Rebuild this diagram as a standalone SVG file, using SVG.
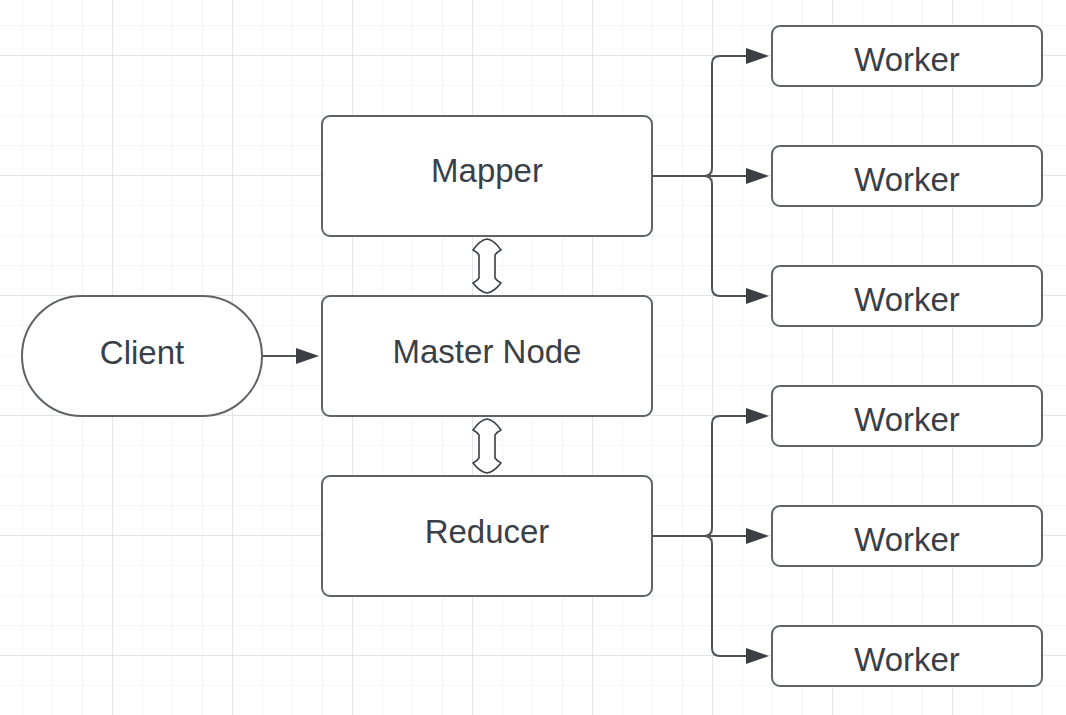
<svg xmlns="http://www.w3.org/2000/svg" width="1066" height="715" viewBox="0 0 1066 715">
<defs>
<pattern id="minor" x="22" y="25" width="30" height="30" patternUnits="userSpaceOnUse">
<path d="M0 0 H30 M0 0 V30" fill="none" stroke="#ececec" stroke-width="1.2"/>
</pattern>
<pattern id="major" x="112" y="55" width="120" height="120" patternUnits="userSpaceOnUse">
<path d="M0 0 H120 M0 0 V120" fill="none" stroke="#dedede" stroke-width="1.4"/>
</pattern>
<marker id="arr" markerUnits="userSpaceOnUse" markerWidth="26" markerHeight="18" refX="2" refY="8" orient="auto">
<path d="M0 0 L23 8 L0 16 Z" fill="#3a3f45"/>
</marker>
</defs>
<style>
.node{fill:#ffffff;stroke:#5f6266;stroke-width:2}
.lbl{font-family:"Liberation Sans",Arial,sans-serif;font-size:33px;fill:#3a4048;text-anchor:middle}
.conn{fill:none;stroke:#4d5258;stroke-width:2}
.dbl{fill:#ffffff;stroke:#3a3f45;stroke-width:1.6;stroke-linejoin:round}
</style>
<rect width="1066" height="715" fill="#ffffff"/>
<rect width="1066" height="715" fill="url(#minor)"/>
<rect width="1066" height="715" fill="url(#major)"/>

<g id="connectors">
<path class="conn" d="M262 356 H298" marker-end="url(#arr)"/>
<path class="conn" d="M652 176 H704 Q712 176 712 168 V64 Q712 56 720 56 H748" marker-end="url(#arr)"/>
<path class="conn" d="M652 176 H748" marker-end="url(#arr)"/>
<path class="conn" d="M652 176 H704 Q712 176 712 184 V288 Q712 296 720 296 H748" marker-end="url(#arr)"/>
<path class="conn" d="M652 536 H704 Q712 536 712 528 V424 Q712 416 720 416 H748" marker-end="url(#arr)"/>
<path class="conn" d="M652 536 H748" marker-end="url(#arr)"/>
<path class="conn" d="M652 536 H704 Q712 536 712 544 V648 Q712 656 720 656 H748" marker-end="url(#arr)"/>
<path class="dbl" d="M487 239 Q494 240 501 250 Q497 252 495 255 V278 Q497 281 501 283 Q494 292 487 293 Q480 292 473 283 Q477 281 479 278 V255 Q477 252 473 250 Q480 240 487 239 Z"/>
<path class="dbl" transform="translate(0 180)" d="M487 239 Q494 240 501 250 Q497 252 495 255 V278 Q497 281 501 283 Q494 292 487 293 Q480 292 473 283 Q477 281 479 278 V255 Q477 252 473 250 Q480 240 487 239 Z"/>
</g>

<g id="client">
<rect class="node" x="22" y="296" width="240" height="120" rx="60" ry="60"/>
<text class="lbl" x="142" y="364">Client</text>
</g>
<g id="mapper">
<rect class="node" x="322" y="116" width="330" height="120" rx="8"/>
<text class="lbl" x="487" y="182">Mapper</text>
</g>
<g id="master">
<rect class="node" x="322" y="296" width="330" height="120" rx="8"/>
<text class="lbl" x="487" y="363">Master Node</text>
</g>
<g id="reducer">
<rect class="node" x="322" y="476" width="330" height="120" rx="8"/>
<text class="lbl" x="487" y="543">Reducer</text>
</g>
<g id="worker1">
<rect class="node" x="772" y="26" width="270" height="60" rx="8"/>
<text class="lbl" x="907" y="71">Worker</text>
</g>
<g id="worker2">
<rect class="node" x="772" y="146" width="270" height="60" rx="8"/>
<text class="lbl" x="907" y="191">Worker</text>
</g>
<g id="worker3">
<rect class="node" x="772" y="266" width="270" height="60" rx="8"/>
<text class="lbl" x="907" y="311">Worker</text>
</g>
<g id="worker4">
<rect class="node" x="772" y="386" width="270" height="60" rx="8"/>
<text class="lbl" x="907" y="431">Worker</text>
</g>
<g id="worker5">
<rect class="node" x="772" y="506" width="270" height="60" rx="8"/>
<text class="lbl" x="907" y="551">Worker</text>
</g>
<g id="worker6">
<rect class="node" x="772" y="626" width="270" height="60" rx="8"/>
<text class="lbl" x="907" y="671">Worker</text>
</g>
</svg>
